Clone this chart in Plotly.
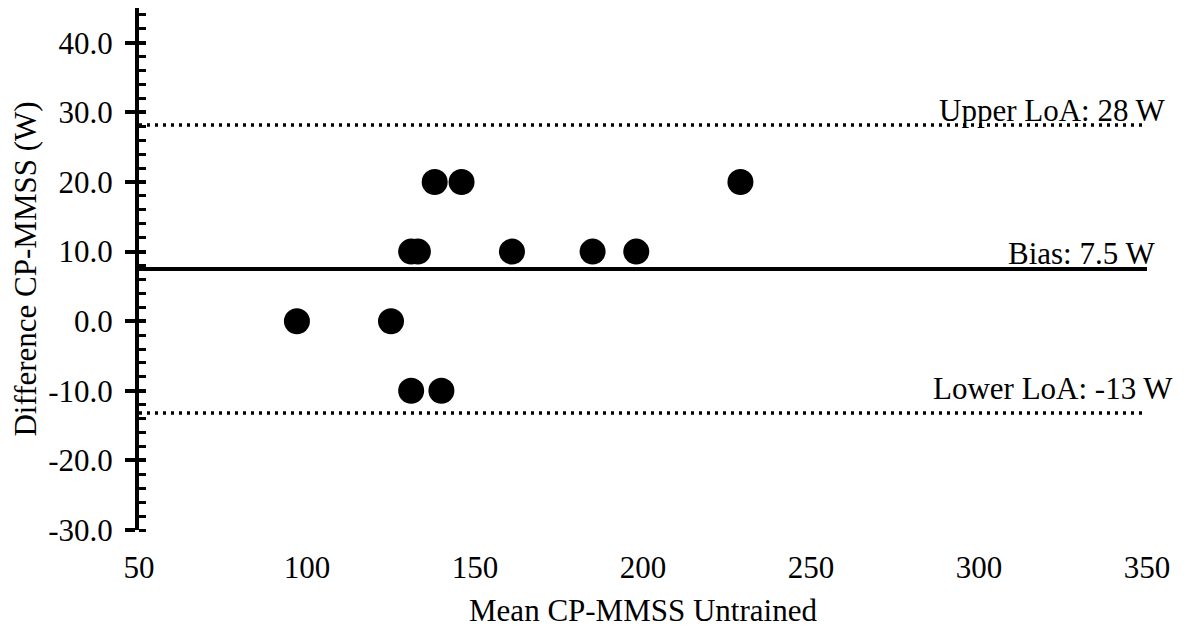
import plotly.graph_objects as go

# Data
mean_cp = [97, 125, 131, 133, 138, 146, 131, 140, 161, 185, 198, 229]
diff_cp = [0, 0, 10, 10, 20, 20, -10, -10, 10, 10, 10, 20]
line_x = [50, 350]
bias = 7.5
upper_loa = 28.2
lower_loa = -13.2
line_labels = ["Upper LoA: 28 W", "Bias: 7.5 W", "Lower LoA: -13 W"]
x_ticks = [50, 100, 150, 200, 250, 300, 350]
y_ticks = [-30, -20, -10, 0, 10, 20, 30, 40]
y_ticktext = ["-30.0", "-20.0", "-10.0", "0.0", "10.0", "20.0", "30.0", "40.0"]

FONT = "Liberation Serif, Times New Roman, serif"
FS = 31

fig = go.Figure()
fig.add_trace(go.Scatter(x=line_x, y=[upper_loa] * 2, mode="lines",
                         line=dict(color="black", width=3.5, dash="3px,5px"),
                         showlegend=False, hoverinfo="skip"))
fig.add_trace(go.Scatter(x=line_x, y=[lower_loa] * 2, mode="lines",
                         line=dict(color="black", width=3.5, dash="3px,5px"),
                         showlegend=False, hoverinfo="skip"))
fig.add_trace(go.Scatter(x=line_x, y=[bias] * 2, mode="lines",
                         line=dict(color="black", width=4),
                         showlegend=False, hoverinfo="skip"))
fig.add_trace(go.Scatter(x=mean_cp, y=diff_cp, mode="markers",
                         marker=dict(color="black", size=26, line=dict(width=0)),
                         showlegend=False))

label_pos = [(upper_loa, 21, 14), (bias, 10, 16), (lower_loa, 28, 25)]
for txt, (yv, xs, ys) in zip(line_labels, label_pos):
    fig.add_annotation(x=350, y=yv, text=txt, showarrow=False,
                       xanchor="right", yanchor="middle", xshift=xs, yshift=ys,
                       font=dict(family=FONT, size=FS, color="black"))

fig.update_layout(
    width=1185, height=628,
    margin=dict(l=139, r=38, t=8, b=98),
    paper_bgcolor="white", plot_bgcolor="white",
    font=dict(family=FONT, size=FS, color="black"),
    xaxis=dict(range=[50, 350], tickvals=x_ticks, showgrid=False, zeroline=False,
               showline=False, ticks="", ticklabelstandoff=16, automargin=False,
               title=dict(text="Mean CP-MMSS Untrained", standoff=16,
                          font=dict(family=FONT, size=FS))),
    yaxis=dict(range=[-30, 45], tickvals=y_ticks, ticktext=y_ticktext,
               showgrid=False, zeroline=False, showline=True, linecolor="black",
               linewidth=4, ticks="outside", ticklen=10, tickwidth=3.5,
               tickcolor="black", ticklabelstandoff=6, automargin=False,
               minor=dict(ticks="inside", dtick=2, tick0=0, ticklen=7,
                          tickwidth=3, tickcolor="black", showgrid=False),
               title=dict(text="Difference CP-MMSS (W)", standoff=3,
                          font=dict(family=FONT, size=FS))),
    yaxis2=dict(range=[-30, 45], overlaying="y", side="left", anchor="x",
                tickvals=y_ticks, showticklabels=False, showgrid=False,
                zeroline=False, showline=False, ticks="inside", ticklen=7,
                tickwidth=3.5, tickcolor="black"),
)
fig.add_trace(go.Scatter(x=[None], y=[None], yaxis="y2", showlegend=False,
                         hoverinfo="skip"))

fig.write_html("out.html")
